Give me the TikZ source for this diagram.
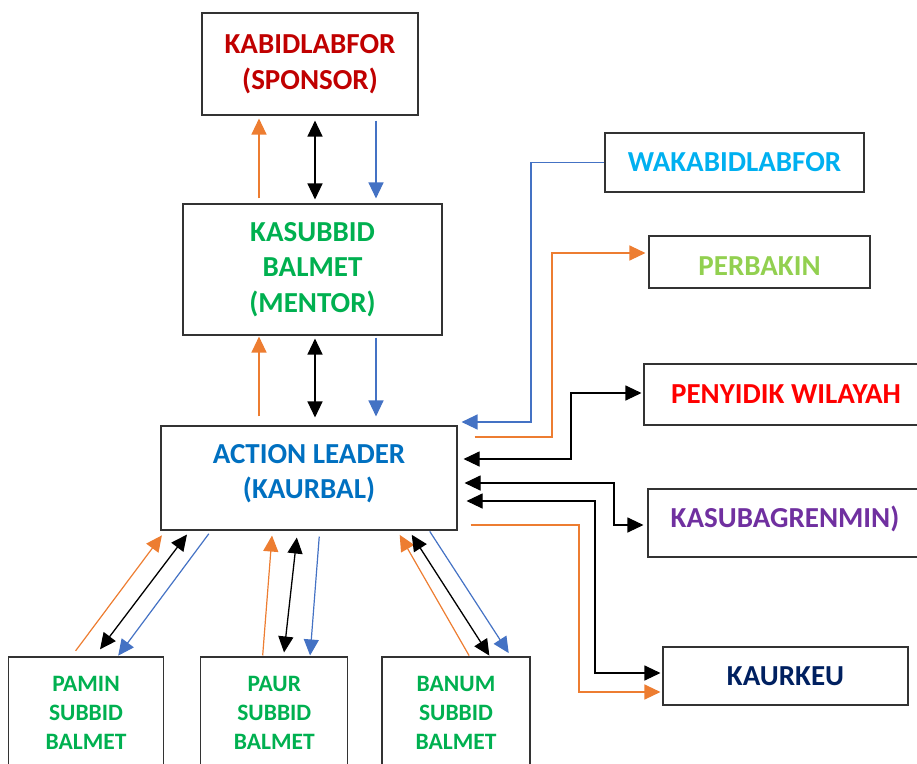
\documentclass[tikz,border=0pt]{standalone}
\usepackage{fontspec}
\setmainfont{Carlito}
\usetikzlibrary{arrows.meta}

\definecolor{sponsorred}{HTML}{C00000}
\definecolor{mentorgreen}{HTML}{00B050}
\definecolor{leaderblue}{HTML}{0070C0}
\definecolor{wakacyan}{HTML}{00B0F0}
\definecolor{perbakingreen}{HTML}{92D050}
\definecolor{penyidikred}{HTML}{FF0000}
\definecolor{renminpurple}{HTML}{7030A0}
\definecolor{keunavy}{HTML}{002060}
\definecolor{arrorange}{HTML}{ED7D31}
\definecolor{arrblue}{HTML}{4472C4}

\begin{document}
\begin{tikzpicture}[x=1pt,y=-1pt,
  main node/.style={draw=black!80,line width=1.1pt,align=center,inner sep=0pt,
    font=\bfseries\fontsize{29}{35.5}\selectfont},
  small node/.style={main node,text=mentorgreen,minimum height=112pt,
    font=\bfseries\fontsize{23.5}{29}\selectfont},
  org/.style={draw=arrorange,line width=1.2pt,-{Triangle[length=16pt,width=15pt]}},
  blu/.style={draw=arrblue,line width=1.2pt,-{Triangle[length=16pt,width=15pt]}},
  blk/.style={draw=black,line width=1.3pt,
    {Triangle[length=16pt,width=15pt]}-{Triangle[length=16pt,width=15pt]}}]

  \useasboundingbox (0,0) rectangle (917,763);

  % main chain
  \node[main node,minimum width=216pt,minimum height=102pt,text=sponsorred] (sponsor) at (310,64) {KABIDLABFOR\\(SPONSOR)};
  \node[main node,minimum width=259pt,minimum height=131pt,text=mentorgreen] (mentor) at (312.5,269.5) {KASUBBID\\BALMET\\(MENTOR)};
  \node[main node,minimum width=296pt,minimum height=104pt,text depth=13pt,text=leaderblue] (leader) at (309,478) {ACTION LEADER\\(KAURBAL)};

  % right side
  \node[main node,minimum width=259pt,minimum height=59pt,text=wakacyan] (waka) at (734.5,162.5) {WAKABIDLABFOR};
  \node[main node,minimum width=221pt,minimum height=52pt,text height=27pt,text depth=0pt,text=perbakingreen] (perbakin) at (759.5,262) {PERBAKIN};
  \node[main node,minimum width=284pt,minimum height=61pt,text=penyidikred] (penyidik) at (786,394.5) {PENYIDIK WILAYAH};
  \node[main node,minimum width=274pt,minimum height=68pt,text depth=13pt,text=renminpurple] (renmin) at (785,523) {KASUBAGRENMIN)};
  \node[main node,minimum width=245pt,minimum height=58pt,text=keunavy] (kaurkeu) at (785.5,676) {KAURKEU};

  % bottom row
  \node[small node,minimum width=155pt] (pamin) at (86,713) {PAMIN\\SUBBID\\BALMET};
  \node[small node,minimum width=147pt] (paur) at (274.3,713) {PAUR\\SUBBID\\BALMET};
  \node[small node,minimum width=148pt] (banum) at (456,713) {BANUM\\SUBBID\\BALMET};

  % sponsor - mentor
  \draw[org,shorten <=5pt,shorten >=3pt] (mentor.north -| 259,0) -- (sponsor.south -| 259,0);
  \draw[blk,shorten <=5pt,shorten >=4pt] (sponsor.south -| 315,0) -- (mentor.north -| 315,0);
  \draw[blu,shorten <=5pt,shorten >=5pt] (sponsor.south -| 376,0) -- (mentor.north -| 376,0);

  % mentor - leader
  \draw[org,shorten <=9pt,shorten >=1pt] (leader.north -| 259,0) -- (mentor.south -| 259,0);
  \draw[blk,shorten <=3pt,shorten >=8pt] (mentor.south -| 315,0) -- (leader.north -| 315,0);
  \draw[blu,shorten <=2pt,shorten >=9pt] (mentor.south -| 376,0) -- (leader.north -| 376,0);

  % leader - staff
  \draw[org,shorten <=7pt,shorten >=6pt] (pamin.north -| 71.4,0) -- (leader.south -| 165.5,0);
  \draw[blk,shorten <=9pt,shorten >=5pt] (pamin.north -| 94.6,0) -- (leader.south -| 190,0);
  \draw[blu,shorten <=4pt,shorten >=1pt] (leader.south -| 211.2,0) -- (pamin.north -| 117.6,0);

  \draw[org,shorten <=1pt,shorten >=5pt] (paur.north -| 262.6,0) -- (leader.south -| 272.4,0);
  \draw[blk,shorten <=4pt,shorten >=7pt] (paur.north -| 283.6,0) -- (leader.south -| 297.6,0);
  \draw[blu,shorten <=6pt,shorten >=1pt] (leader.south -| 319.7,0) -- (paur.north -| 310,0);

  \draw[org,shorten <=1pt,shorten >=5pt] (banum.north -| 469.6,0) -- (leader.south -| 397.2,0);
  \draw[blk,shorten <=1pt,shorten >=5pt] (banum.north -| 489.9,0) -- (leader.south -| 409,0);
  \draw[blu,shorten <=1pt,shorten >=4pt] (leader.south -| 429.2,0) -- (banum.north -| 510.9,0);

  % leader - outside
  \draw[blu,shorten >=4pt] (waka.west) -| (531,422) -- (leader.east |- 0,422);
  \draw[org,shorten <=17pt,shorten >=3pt] (leader.east |- 0,437) -| (552,253) -- (perbakin.west |- 0,253);
  \draw[blk,line width=1.1pt,shorten <=6pt,shorten >=2pt] (leader.east |- 0,459) -| (571,393) -- (penyidik.west |- 0,393);
  \draw[blk,line width=1.1pt,shorten <=7pt,shorten >=4pt] (leader.east |- 0,483) -| (614,525) -- (renmin.west |- 0,525);
  \draw[blk,line width=1.1pt,shorten <=9pt,shorten >=2pt] (leader.east |- 0,501) -| (595,673) -- (kaurkeu.west |- 0,673);
  \draw[org,shorten <=13pt,shorten >=2pt] (leader.east |- 0,525) -| (579,692) -- (kaurkeu.west |- 0,692);

\end{tikzpicture}
\end{document}
